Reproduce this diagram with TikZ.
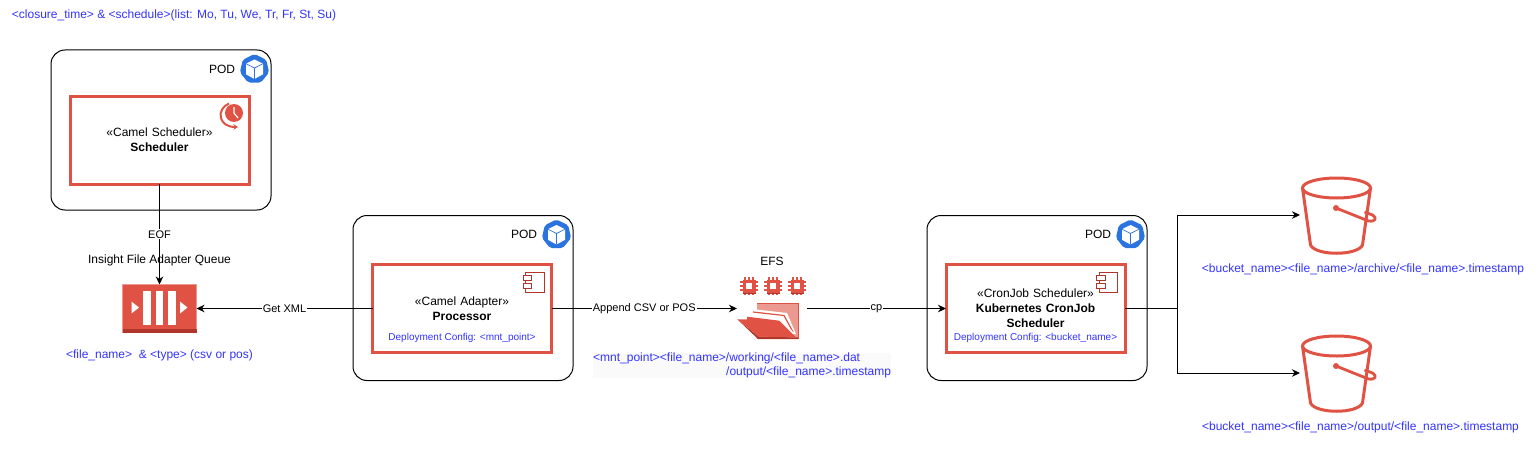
\documentclass[tikz,border=0pt]{standalone}
\usepackage{xcolor}
\usepackage{fontspec}
\setmainfont{Liberation Sans}
\usetikzlibrary{arrows.meta,positioning}
\definecolor{awsred}{HTML}{E05243}
\definecolor{awsdark}{HTML}{B0352B}
\definecolor{awslight}{HTML}{EC9A8F}
\definecolor{configblue}{HTML}{3333FF}
\definecolor{kubeblue}{HTML}{2B74E0}
\tikzset{
  podbox/.style={
    draw=black,
    line width=1pt,
    rounded corners=14pt,
    minimum width=220pt,
    outer sep=0pt
  },
  servicebox/.style={
    draw=awsred,
    line width=3pt,
    minimum width=179pt,
    minimum height=88pt,
    text width=170pt,
    align=center,
    inner sep=0pt,
    outer sep=0pt,
    font=\fontsize{12}{15}\selectfont
  },
  iconbox/.style={
    inner sep=0pt,
    outer sep=0pt
  },
  queuebox/.style={
    iconbox,
    draw=awslight,
    fill=awsred,
    line width=0.6pt,
    minimum width=74pt,
    minimum height=48pt
  },
  plaintext/.style={
    inner sep=0pt,
    font=\fontsize{12}{15}\selectfont
  },
  bluetext/.style={
    inner sep=0pt,
    text=configblue,
    font=\fontsize{12}{14}\selectfont
  },
  configtext/.style={
    bluetext,
    font=\fontsize{10}{13}\selectfont
  },
  edgelabel/.style={
    fill=white,
    inner sep=1pt,
    font=\fontsize{11}{13}\selectfont
  },
  flowarrow/.style={
    -{Stealth[length=8pt,width=7.5pt,inset=2.5pt]},
    line width=1pt,
    draw=black
  },
  podicon/.pic={
    \fill[kubeblue, rounded corners=2pt] (0,-15) -- (11.7,-9.3) -- (14.6,3.3) -- (6.5,13.5)
      -- (-6.5,13.5) -- (-14.6,3.3) -- (-11.7,-9.3) -- cycle;
    \fill[white] (0,-9.5) -- (8.5,-5.3) -- (8.5,5.3) -- (0,10) -- (-8.5,5.3) -- (-8.5,-5.3) -- cycle;
    \draw[kubeblue, line width=0.7pt] (-8.5,-5.3) -- (0,-1) -- (8.5,-5.3) (0,-1) -- (0,10);
    \node[plaintext] (-text) at (-32.5,0) {POD};
  },
  clockicon/.pic={
    \fill[awsred] (1,-1) circle (9);
    \draw[white, line width=1.2pt] (1,-7) -- (1,-1) -- (5,4);
    \draw[awsred, line width=2pt, -{Stealth[length=4.5pt,width=5.5pt]}]
      (-4,-10.5) .. controls (-17,-5) and (-15,13) .. (5,13);
  },
  componenticon/.pic={
    \draw[awsdark, line width=0.8pt] (-8.3,-10) rectangle (10,10);
    \draw[awsdark, fill=white, line width=0.8pt] (-11,-7) rectangle (-2.3,-1.7);
    \draw[awsdark, fill=white, line width=0.8pt] (-11,1) rectangle (-2.3,6.3);
  },
  queueicon/.pic={
    \fill[awsdark] (-37,20.5) rectangle (37,24);
    \foreach \barx in {-12.5,0,12.5}
      \fill[white] (\barx-3.7,-18) rectangle (\barx+3.7,16);
    \fill[white] (-28,-7) -- (-20.5,-1) -- (-28,5) -- cycle;
    \fill[white] (20.5,-7) -- (28,-1) -- (20.5,5) -- cycle;
  },
  chipicon/.pic={
    \foreach \pinpos in {-4,0,4} {
      \draw[awsred, line width=1.6pt] (\pinpos,-9) -- (\pinpos,9);
      \draw[awsred, line width=1.6pt] (-9,\pinpos) -- (9,\pinpos);
    }
    \fill[awsred] (-6.5,-6.5) rectangle (6.5,6.5);
    \fill[white] (-3.2,-3.2) rectangle (3.2,3.2);
    \fill[awsdark] (-6.5,6.5) rectangle (6.5,7.5);
  },
  foldericon/.pic={
    \fill[awslight] (-11,-18) -- (30,-18) -- (30,18) -- (-11,18) -- cycle;
    \draw[awsred, line width=0.7pt] (-11,-18) -- (30,-18) -- (30,18);
    \fill[white] (-16,-12) -- (19,-8) -- (28,13) -- (20,13) -- (-16,-6) -- cycle;
    \draw[awsred, line width=1.2pt] (-15,-9) -- (16,-5.5) -- (25,11);
    \fill[white] (-21,-6) -- (12,-3.5) -- (26,12) -- (-21,12) -- cycle;
    \fill[awsdark] (-30.7,-1.7) -- (-10,18) -- (30,18) -- (30,16.5) -- (-9.5,15.5) -- cycle;
    \fill[awsred] (-30.7,-1.7) -- (-21,-1.7) -- (-20.7,-4.3) -- (11.3,-0.3) -- (28,16.5) -- (-9.5,15.5) -- cycle;
  },
  bucketicon/.pic={
    \draw[awsred, line width=3pt, line join=round]
      (-35,-27) -- (-27,30) .. controls (-22,41) and (20,41) .. (25,30) -- (33,-27);
    \draw[awsred, line width=3pt] (-1,-27) ellipse (34 and 10);
    \draw[awsred, line width=2.8pt, line join=round]
      (-1.5,-7) -- (31,6) .. controls (38,7) and (40,3) .. (35,0) -- (27,-3);
    \fill[awsred] (-1.5,-7) circle (3);
  }
}
\begin{document}
\begin{tikzpicture}[x=1pt,y=-1pt]
  \useasboundingbox (0,0) rectangle (1538,452);

  \node[bluetext] (closure) at (174,15) {<closure\_time> \& <schedule>(list: Mo, Tu, We, Tr, Fr, St, Su)};

  \node[podbox, minimum height=160pt] (podsched) at (161,130) {};
  \node[servicebox] (scheduler) at (159.5,140) {«Camel Scheduler»\\\textbf{Scheduler}};
  \pic (podicona) at ([shift={(-16.5,19)}]podsched.north east) {podicon};
  \pic (clock) at ([shift={(-16,18)}]scheduler.north east) {clockicon};

  \node[queuebox] (queue) at (159.5,308.5) {};
  \pic (queuemark) at (queue.center) {queueicon};
  \node[plaintext, above=18pt of queue] (queuename) {Insight File Adapter Queue};
  \node[bluetext, below=17pt of queue] (queuetext) {<file\_name>~ \& <type> (csv or pos)};

  \node[podbox, minimum height=165pt] (podadapter) at (463,298) {};
  \node[servicebox] (adapter) at (462,308.5) {«Camel Adapter»\\\textbf{Processor}};
  \node[configtext, above=10pt of adapter.south] (adapterconfig) {Deployment Config: <mnt\_point>};
  \pic (podiconb) at ([shift={(-16.5,19)}]podadapter.north east) {podicon};
  \pic (compa) at ([shift={(-17.5,17.5)}]adapter.north east) {componenticon};

  \node[iconbox, minimum width=70pt, minimum height=61pt] (efs) at (772,308.5) {};
  \pic (folder) at ([shift={(-4,12.5)}]efs.center) {foldericon};
  \foreach \chipx in {-23,1,25}
    \pic (chip\chipx) at ([shift={(\chipx,-22.5)}]efs.center) {chipicon};
  \node[plaintext, above=12pt of efs] (efsname) {EFS};
  \node[bluetext, fill=black!2, align=left, anchor=north west] (efspath) at (593,352.5)
    {<mnt\_point><file\_name>/working/<file\_name>.dat\\\hspace*{133pt}/output/<file\_name>.timestamp};

  \node[podbox, minimum height=165pt, right=354pt of podadapter] (podcron) {};
  \node[servicebox, right=394.5pt of adapter] (cron) {«CronJob Scheduler»\\\textbf{Kubernetes CronJob}\\\textbf{Scheduler}};
  \node[configtext, above=10pt of cron.south] (cronconfig) {Deployment Config: <bucket\_name>};
  \pic (podiconc) at ([shift={(-16.5,19)}]podcron.north east) {podicon};
  \pic (compb) at ([shift={(-17.5,17.5)}]cron.north east) {componenticon};

  \node[iconbox, minimum width=75pt, minimum height=78pt] (bucketa) at (1337.5,215) {};
  \pic (bucketmarka) at (bucketa.center) {bucketicon};
  \node[bluetext, below=10pt of bucketa, xshift=25.5pt] (bucketatext) {<bucket\_name><file\_name>/archive/<file\_name>.timestamp};
  \node[iconbox, minimum width=75pt, minimum height=78pt] (bucketb) at (1337.5,373) {};
  \pic (bucketmarkb) at (bucketb.center) {bucketicon};
  \node[bluetext, below=9.5pt of bucketb, xshift=23pt] (bucketbtext) {<bucket\_name><file\_name>/output/<file\_name>.timestamp};

  \coordinate (fork) at (1177,308.5);

  \draw[flowarrow] (scheduler.south) -- node[edgelabel] (eoflabel) {EOF} (queue.north);
  \draw[flowarrow] (adapter.west) -- node[edgelabel] (xmllabel) {Get XML} (queue.east);
  \draw[flowarrow] (adapter.east) -- node[edgelabel] (appendlabel) {Append CSV or POS} (efs.west);
  \draw[flowarrow] (efs.east) -- node[edgelabel] (cplabel) {cp} (cron.west);
  \draw[line width=1pt] (cron.east) -- (fork);
  \draw[flowarrow] (fork) |- (bucketa.west);
  \draw[flowarrow] (fork) |- (bucketb.west);
\end{tikzpicture}
\end{document}
